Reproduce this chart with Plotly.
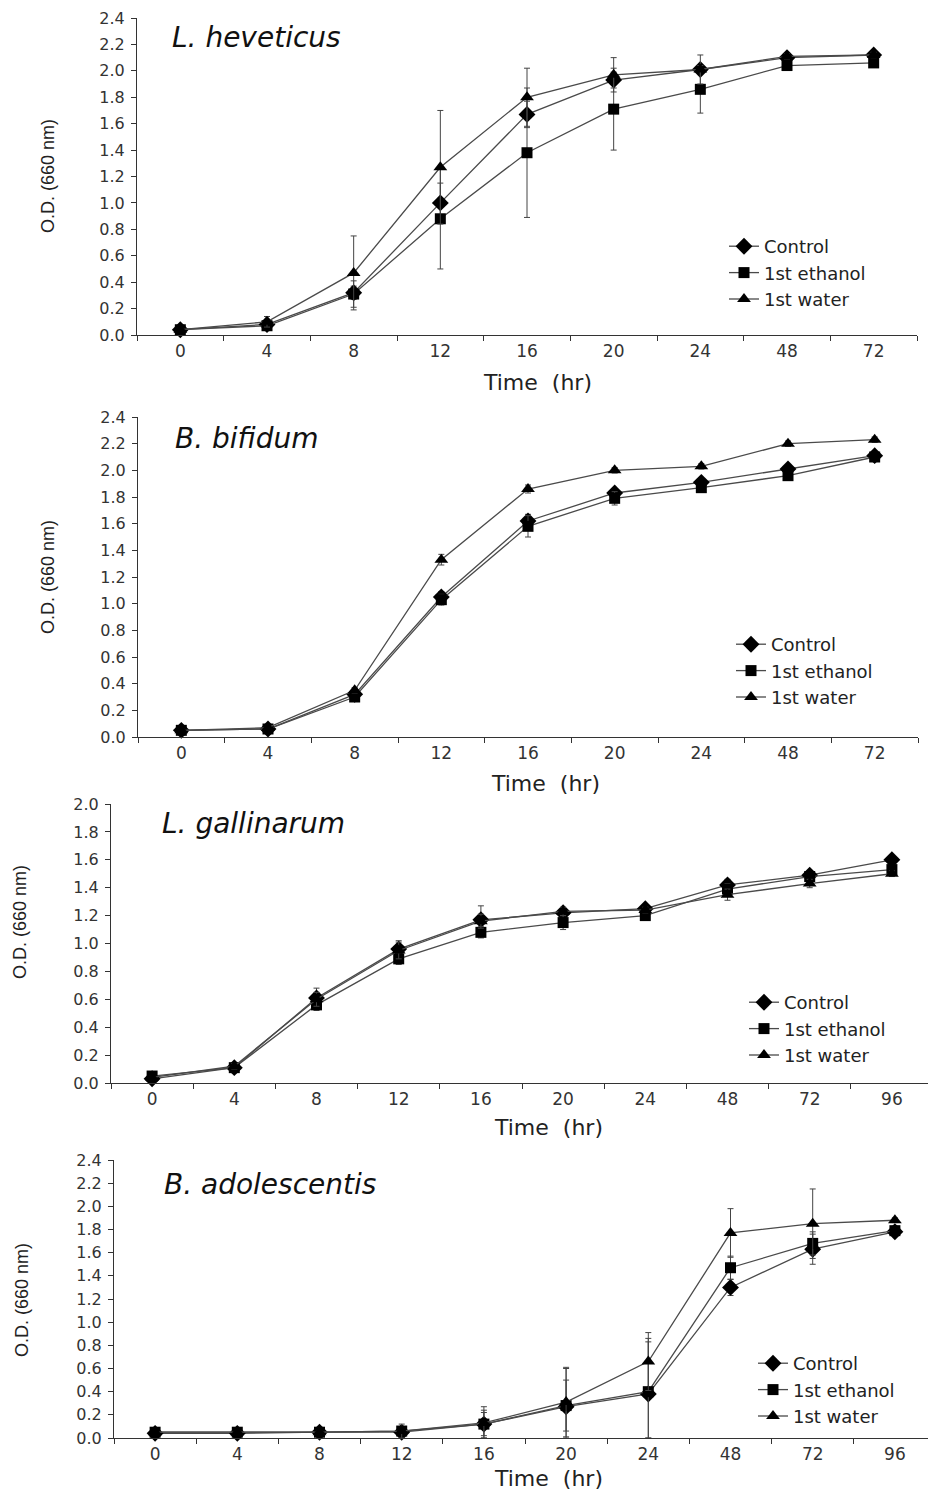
import plotly.graph_objects as go

# ---------------- data ----------------
cats_a = ["0", "4", "8", "12", "16", "20", "24", "48", "72"]
cats_b = ["0", "4", "8", "12", "16", "20", "24", "48", "72", "96"]
series_names = ["Control", "1st ethanol", "1st water"]

# L. heveticus
hev_control = [0.04, 0.08, 0.32, 1.00, 1.67, 1.93, 2.01, 2.10, 2.12]
hev_ethanol = [0.04, 0.07, 0.31, 0.88, 1.38, 1.71, 1.86, 2.04, 2.06]
hev_water = [0.04, 0.10, 0.47, 1.27, 1.80, 1.97, 2.01, 2.11, 2.12]
hev_control_err = [0.01, 0.02, 0.05, 0.15, 0.10, 0.06, 0.03, 0.02, 0.02]
hev_ethanol_err = [0.01, 0.02, 0.10, 0.38, 0.49, 0.31, 0.18, 0.02, 0.02]
hev_water_err = [0.01, 0.04, 0.28, 0.43, 0.22, 0.13, 0.11, 0.02, 0.02]

# B. bifidum
bif_control = [0.05, 0.06, 0.32, 1.05, 1.62, 1.83, 1.91, 2.01, 2.11]
bif_ethanol = [0.05, 0.06, 0.30, 1.03, 1.58, 1.79, 1.87, 1.96, 2.10]
bif_water = [0.05, 0.07, 0.35, 1.33, 1.86, 2.00, 2.03, 2.20, 2.23]
bif_control_err = [0.01, 0.01, 0.02, 0.04, 0.05, 0.03, 0.02, 0.02, 0.02]
bif_ethanol_err = [0.01, 0.01, 0.02, 0.04, 0.08, 0.05, 0.03, 0.02, 0.02]
bif_water_err = [0.01, 0.01, 0.02, 0.04, 0.03, 0.02, 0.02, 0.02, 0.02]

# L. gallinarum
gal_control = [0.03, 0.11, 0.61, 0.96, 1.17, 1.22, 1.25, 1.42, 1.49, 1.60]
gal_ethanol = [0.05, 0.11, 0.56, 0.89, 1.08, 1.15, 1.20, 1.39, 1.48, 1.53]
gal_water = [0.04, 0.12, 0.60, 0.95, 1.16, 1.23, 1.24, 1.35, 1.43, 1.50]
gal_control_err = [0.01, 0.02, 0.07, 0.06, 0.10, 0.03, 0.02, 0.04, 0.03, 0.02]
gal_ethanol_err = [0.01, 0.02, 0.04, 0.04, 0.04, 0.05, 0.03, 0.04, 0.03, 0.03]
gal_water_err = [0.01, 0.02, 0.05, 0.06, 0.05, 0.03, 0.02, 0.04, 0.03, 0.02]

# B. adolescentis
ado_control = [0.04, 0.04, 0.05, 0.05, 0.12, 0.27, 0.38, 1.30, 1.63, 1.78]
ado_ethanol = [0.05, 0.05, 0.05, 0.06, 0.12, 0.28, 0.40, 1.47, 1.68, 1.79]
ado_water = [0.05, 0.05, 0.05, 0.06, 0.13, 0.31, 0.66, 1.77, 1.85, 1.88]
ado_control_err = [0.01, 0.01, 0.01, 0.04, 0.10, 0.33, 0.45, 0.07, 0.13, 0.02]
ado_ethanol_err = [0.01, 0.01, 0.01, 0.03, 0.12, 0.22, 0.46, 0.10, 0.10, 0.02]
ado_water_err = [0.01, 0.01, 0.01, 0.06, 0.14, 0.30, 0.25, 0.21, 0.30, 0.02]

panel_titles = ["L. heveticus", "B. bifidum", "L. gallinarum", "B. adolescentis"]
x_title = "Time  (hr)"
y_title = "O.D. (660 nm)"

# ---------------- layout helpers ----------------
# the page body has an 8px margin, so the figure is drawn 8px in from the top-left
OFF = 8
W, H = 936 - OFF, 1492 - OFF
def fx(px):
    return (px - OFF) / W
def fy(py):
    return 1 - (py - OFF) / H

FONT = "DejaVu Sans, Arial, sans-serif"
LINE_COL = "#4a4a4a"
AX_COL = "#333333"

panels = [
    dict(cats=cats_a, data=[(hev_control, hev_control_err), (hev_ethanol, hev_ethanol_err), (hev_water, hev_water_err)],
         xdom=(137, 917), ybot=335, ytop=18, ymax=2.4, title=panel_titles[0], tpos=(170, 38),
         leg=(724, 228), ytpos=(48, 176), xtpos=(537, 382)),
    dict(cats=cats_a, data=[(bif_control, bif_control_err), (bif_ethanol, bif_ethanol_err), (bif_water, bif_water_err)],
         xdom=(138, 918), ybot=737, ytop=417, ymax=2.4, title=panel_titles[1], tpos=(173, 438),
         leg=(731, 626), ytpos=(48, 577), xtpos=(545, 783)),
    dict(cats=cats_b, data=[(gal_control, gal_control_err), (gal_ethanol, gal_ethanol_err), (gal_water, gal_water_err)],
         xdom=(111, 933), ybot=1083, ytop=804, ymax=2.0, title=panel_titles[2], tpos=(160, 823),
         leg=(744, 984), ytpos=(20, 922), xtpos=(548, 1127)),
    dict(cats=cats_b, data=[(ado_control, ado_control_err), (ado_ethanol, ado_ethanol_err), (ado_water, ado_water_err)],
         xdom=(114, 936), ybot=1438, ytop=1160, ymax=2.4, title=panel_titles[3], tpos=(162, 1184),
         leg=(753, 1345), ytpos=(22, 1300), xtpos=(548, 1478)),
]

symbols = ["diamond", "square", "triangle-up"]
msizes = [13, 11, 12]

fig = go.Figure()
layout = dict(
    width=W, height=H, margin=dict(l=0, r=0, t=0, b=0, autoexpand=False),
    paper_bgcolor="white", plot_bgcolor="white",
    font=dict(family=FONT, color=AX_COL),
)
annotations = []

for i, p in enumerate(panels):
    k = i + 1
    xname = "x" if k == 1 else f"x{k}"
    yname = "y" if k == 1 else f"y{k}"
    legname = "legend" if k == 1 else f"legend{k}"
    for j, (vals, errs) in enumerate(p["data"]):
        minus = [min(e, v) for v, e in zip(vals, errs)]
        fig.add_trace(go.Scatter(
            x=p["cats"], y=vals, name=series_names[j], mode="lines+markers",
            xaxis=xname, yaxis=yname, legend=legname, cliponaxis=False,
            line=dict(color=LINE_COL, width=1.3),
            marker=dict(symbol=symbols[j], size=msizes[j], color="black"),
            error_y=dict(type="data", array=errs, arrayminus=minus, symmetric=False,
                         color="#444444", thickness=1, width=3),
        ))
    axkey_x = "xaxis" if k == 1 else f"xaxis{k}"
    axkey_y = "yaxis" if k == 1 else f"yaxis{k}"
    layout[axkey_x] = dict(
        domain=[fx(p["xdom"][0]), min(1.0, fx(p["xdom"][1]))], anchor=yname, automargin=False,
        type="category", categoryorder="array", categoryarray=p["cats"],
        range=[-0.5, len(p["cats"]) - 0.5], tickson="boundaries",
        ticks="outside", ticklen=5, tickcolor=AX_COL, tickwidth=1,
        showline=True, linecolor=AX_COL, linewidth=1.2, showgrid=False, zeroline=False,
        tickfont=dict(family=FONT, size=17, color="#333333"),
    )
    layout[axkey_y] = dict(
        domain=[fy(p["ybot"]), fy(p["ytop"])], anchor=xname, automargin=False,
        range=[0, p["ymax"]], dtick=0.2, tick0=0, tickformat=".1f",
        ticks="outside", ticklen=5, tickcolor=AX_COL, tickwidth=1, ticklabelstandoff=3,
        ticklabeloverflow="allow",
        showline=True, linecolor=AX_COL, linewidth=1.2, showgrid=False, zeroline=False,
        tickfont=dict(family=FONT, size=16, color="#333333"),
    )
    layout[legname] = dict(
        x=fx(p["leg"][0]), y=fy(p["leg"][1]), xanchor="left", yanchor="top",
        bgcolor="rgba(0,0,0,0)", borderwidth=0, tracegroupgap=0,
        font=dict(family=FONT, size=18, color="#222222"),
    )
    annotations.append(dict(
        text=f"<i>{p['title']}</i>", x=fx(p["tpos"][0]), y=fy(p["tpos"][1]),
        xref="paper", yref="paper", xanchor="left", yanchor="middle", showarrow=False,
        font=dict(family=FONT, size=28, color="#111111"),
    ))
    annotations.append(dict(
        text=y_title, x=fx(p["ytpos"][0]), y=fy(p["ytpos"][1]), textangle=-90,
        xref="paper", yref="paper", xanchor="center", yanchor="middle", showarrow=False,
        font=dict(family="Arial, Liberation Sans, sans-serif", size=18, color="#222222"),
    ))
    annotations.append(dict(
        text=x_title, x=fx(p["xtpos"][0]), y=fy(p["xtpos"][1]),
        xref="paper", yref="paper", xanchor="center", yanchor="middle", showarrow=False,
        font=dict(family=FONT, size=22, color="#222222"),
    ))

layout["annotations"] = annotations
fig.update_layout(**layout)
fig.write_html("out.html")
